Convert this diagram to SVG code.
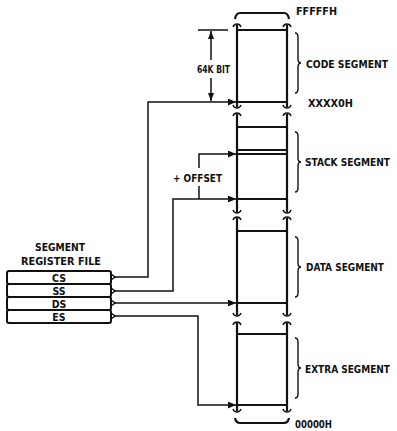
<svg xmlns="http://www.w3.org/2000/svg" width="397" height="431" viewBox="0 0 397 431">
<style>
.t{font-family:"Liberation Sans Narrow","DejaVu Sans Condensed","Liberation Sans",sans-serif;font-weight:bold;font-size:10.5px;fill:#111}
.ln{fill:none;stroke:#111;stroke-width:1.5}
.col{fill:none;stroke:#111;stroke-width:2.2}
.br{fill:none;stroke:#111;stroke-width:1.4}
.box{fill:#fff;stroke:#111;stroke-width:2}
</style>
<defs>
<marker id="ah" markerUnits="userSpaceOnUse" markerWidth="9" markerHeight="8" refX="8" refY="3.5" orient="auto"><path d="M0,0 L8,3.5 L0,7 z" fill="#111"/></marker>
<marker id="dh" markerUnits="userSpaceOnUse" markerWidth="8" markerHeight="10" refX="8" refY="3" orient="auto"><path d="M0,0 L8,3 L0,6 z" fill="#111"/></marker>
</defs>
<g id="memory-column">
<path class="col" d="M235,19 Q236,13 240,13 L284,13 Q288,13 289,19"/>
<path class="col" d="M237,25 V107 M287,25 V107"/>
<path class="col" d="M237,114 V212 M287,114 V212"/>
<path class="col" d="M237,218 V315 M287,218 V315"/>
<path class="col" d="M237,323 V411 M287,323 V411"/>
<path class="col" d="M235,418 Q236,423 240,423 L284,423 Q288,423 289,418"/>
<path class="br" d="M233,27 Q234,24 237,24 Q240,24 241,27 M283,27 Q284,24 287,24 Q290,24 291,27"/>
<path class="br" d="M233,105 Q234,108 237,108 Q240,108 241,105 M283,105 Q284,108 287,108 Q290,108 291,105"/>
<path class="br" d="M233,116 Q234,113 237,113 Q240,113 241,116 M283,116 Q284,113 287,113 Q290,113 291,116"/>
<path class="br" d="M233,210 Q234,213 237,213 Q240,213 241,210 M283,210 Q284,213 287,213 Q290,213 291,210"/>
<path class="br" d="M233,220 Q234,217 237,217 Q240,217 241,220 M283,220 Q284,217 287,217 Q290,217 291,220"/>
<path class="br" d="M233,313 Q234,316 237,316 Q240,316 241,313 M283,313 Q284,316 287,316 Q290,316 291,313"/>
<path class="br" d="M233,325 Q234,322 237,322 Q240,322 241,325 M283,325 Q284,322 287,322 Q290,322 291,325"/>
<path class="br" d="M233,409 Q234,412 237,412 Q240,412 241,409 M283,409 Q284,412 287,412 Q290,412 291,409"/>
<path class="col" d="M237,30 H287 M237,102 H287 M237,127 H287 M237,150 H287 M237,154 H287 M237,199 H287 M237,231 H287 M237,303 H287 M237,334 H287 M237,405 H287"/>
<text class="t" x="296" y="15" textLength="41" lengthAdjust="spacingAndGlyphs">FFFFFH</text>
<text class="t" x="308" y="107" textLength="45" lengthAdjust="spacingAndGlyphs">XXXX0H</text>
<text class="t" x="295" y="428" font-size="9.5" textLength="37" lengthAdjust="spacingAndGlyphs">00000H</text>
</g>
<g id="code-segment">
<path class="br" d="M295,33 Q298,33 298,37 L298,59 Q298,63 301,63 Q298,63 298,67 L298,89 Q298,93 295,93"/>
<text class="t" x="306" y="68" textLength="82" lengthAdjust="spacingAndGlyphs">CODE SEGMENT</text>
</g>
<g id="stack-segment">
<path class="br" d="M295,132 Q298,132 298,136 L298,158 Q298,162 301,162 Q298,162 298,166 L298,188 Q298,192 295,192"/>
<text class="t" x="305" y="166" textLength="85" lengthAdjust="spacingAndGlyphs">STACK SEGMENT</text>
</g>
<g id="data-segment">
<path class="br" d="M295,237 Q298,237 298,241 L298,263 Q298,267 301,267 Q298,267 298,271 L298,293 Q298,297 295,297"/>
<text class="t" x="306" y="271" textLength="78" lengthAdjust="spacingAndGlyphs">DATA SEGMENT</text>
</g>
<g id="extra-segment">
<path class="br" d="M295,338 Q298,338 298,342 L298,364 Q298,368 301,368 Q298,368 298,372 L298,394 Q298,398 295,398"/>
<text class="t" x="305" y="373" textLength="85" lengthAdjust="spacingAndGlyphs">EXTRA SEGMENT</text>
</g>
<g id="dimension-64k">
<path class="ln" d="M198,30 H228"/>
<path class="ln" d="M211,60 V31" marker-end="url(#dh)"/>
<path class="ln" d="M211,78 V101" marker-end="url(#dh)"/>
<text class="t" x="197" y="73" textLength="33" lengthAdjust="spacingAndGlyphs">64K BIT</text>
</g>
<g id="register-file">
<text class="t" x="60" y="251" text-anchor="middle" textLength="50" lengthAdjust="spacingAndGlyphs">SEGMENT</text>
<text class="t" x="61" y="265" text-anchor="middle" textLength="80" lengthAdjust="spacingAndGlyphs">REGISTER FILE</text>
<g id="reg-cs"><rect class="box" x="7" y="271" width="104" height="13" rx="2"/><text class="t" x="59" y="282" text-anchor="middle">CS</text></g>
<g id="reg-ss"><rect class="box" x="7" y="284" width="104" height="13" rx="2"/><text class="t" x="59" y="295" text-anchor="middle">SS</text></g>
<g id="reg-ds"><rect class="box" x="7" y="297" width="104" height="13" rx="2"/><text class="t" x="59" y="308" text-anchor="middle">DS</text></g>
<g id="reg-es"><rect class="box" x="7" y="310" width="104" height="13" rx="2"/><text class="t" x="59" y="321" text-anchor="middle">ES</text></g>
</g>
<g id="connectors">
<path class="ln" d="M111,274 L115,277 L111,280 M111,288 L115,291 L111,294 M111,300 L115,303 L111,306 M111,313 L115,316 L111,319"/>
<path class="ln" d="M115,277 H148 V102 H236" marker-end="url(#ah)"/>
<path class="ln" d="M115,291 H173 V199 H236" marker-end="url(#ah)"/>
<path class="ln" d="M199,168 V154 H236" marker-end="url(#ah)"/>
<path class="ln" d="M199,186 V199"/>
<path class="ln" d="M115,303 H236" marker-end="url(#ah)"/>
<path class="ln" d="M115,316 H198 V405 H236" marker-end="url(#ah)"/>
<text class="t" x="173" y="182" textLength="49" lengthAdjust="spacingAndGlyphs">+ OFFSET</text>
</g>
</svg>
